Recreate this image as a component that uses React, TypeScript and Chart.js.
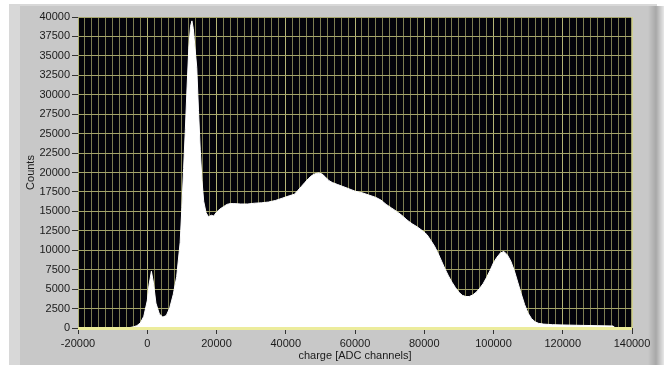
import React, { useEffect, useRef } from "react";
import { Chart, registerables } from "chart.js";

Chart.register(...registerables);

const chargeX: number[] = [
  -20000, -10000, -6000, -5000, -4000, -3000, -2000, -1000, 0, 500, 1200, 1800, 2500, 3500, 4500,
  5500, 6500, 7500, 8500, 9500, 10000, 10500, 11000, 11500, 12000, 12500, 12900, 13300, 13800,
  14300, 14800, 15300, 15800, 16300, 17000, 17700, 18500, 19200, 20000, 21000, 22000, 23000,
  24000, 25000, 27000, 29000, 31000, 33000, 35000, 37000, 39000, 41000, 42500, 43500, 44500,
  45500, 46500, 47500, 48500, 49500, 50500, 51500, 52500, 53500, 55000, 56500, 58000, 60000,
  62000, 64000, 66000, 67500, 69000, 70500, 72000, 73500, 75000, 76500, 78000, 79500, 80800,
  82000, 83000, 84000, 85000, 86000, 87000, 88000, 89000, 90000, 91000, 92000, 93000, 94000,
  95000, 96000, 97000, 98000, 99000, 100000, 101000, 102000, 103000, 104000, 105000, 106000,
  107000, 108000, 109000, 110000, 111000, 112000, 113000, 114500, 117000, 120000, 125000,
  130000, 134500, 135200, 140000,
];

const counts: number[] = [
  0, 0, 30, 60, 150, 300, 650, 1500, 3500, 5500, 7300, 5800, 3200, 1800, 1400,
  1600, 2600, 4300, 6600, 11000, 15500, 20500, 25500, 31000, 36000, 38800, 39500, 38500, 36000,
  33500, 28000, 23000, 19000, 16300, 14800, 14300, 14500, 14400, 14900, 15300, 15600, 15900,
  16000, 16000, 15950, 15950, 16050, 16100, 16200, 16400, 16700, 17000, 17200, 17700, 18200,
  18700, 19200, 19600, 19850, 19950, 19800, 19400, 18950, 18700, 18450, 18200, 17950, 17600,
  17400, 17100, 16800, 16450, 15900, 15450, 15000, 14500, 13900, 13400, 13000, 12500, 12000,
  11200, 10500, 9600, 8600, 7600, 6700, 5900, 5200, 4600, 4200, 4050, 4050, 4250,
  4600, 5100, 5700, 6500, 7400, 8400, 9100, 9650, 9850, 9400, 8600, 7400,
  5900, 4400, 3000, 1900, 1200, 800, 600, 500, 430, 390, 340,
  300, 260, 0, 0,
];

const xMin = -20000;
const xMax = 140000;
const xMajorStep = 20000;
const xMinorStep = 2000;
const yMin = 0;
const yMax = 40000;
const yStep = 2500;

const xTitle = "charge [ADC channels]";
const yTitle = "Counts";

const bgPlugin = {
  id: "bgPanel",
  beforeDraw(chart: any) {
    const { ctx, width, height, chartArea } = chart;
    ctx.save();
    ctx.fillStyle = "#ffffff";
    ctx.fillRect(0, 0, width, height);
    ctx.fillStyle = "#d8d8d8";
    ctx.fillRect(9, 4, 648, height - 4);
    ctx.fillStyle = "#c8c8c8";
    ctx.fillRect(20, 6, 630, height - 6);
    const g = ctx.createLinearGradient(648, 0, 664, 0);
    g.addColorStop(0, "#c8c8c8");
    g.addColorStop(0.5, "#a8a8a8");
    g.addColorStop(1, "#e8e8e8");
    ctx.fillStyle = g;
    ctx.fillRect(648, 6, 16, height - 6);
    ctx.fillStyle = "#03030a";
    ctx.fillRect(chartArea.left, chartArea.top, chartArea.right - chartArea.left, chartArea.bottom - chartArea.top);
    ctx.restore();
  },
  afterDatasetsDraw(chart: any) {
    const { ctx, chartArea } = chart;
    ctx.save();
    ctx.strokeStyle = "#ecec9c";
    ctx.lineWidth = 3;
    ctx.beginPath();
    ctx.moveTo(chartArea.left, chartArea.bottom + 0.5);
    ctx.lineTo(chartArea.right, chartArea.bottom + 0.5);
    ctx.stroke();
    ctx.lineWidth = 1.5;
    ctx.strokeStyle = "#d8d898";
    ctx.beginPath();
    ctx.moveTo(chartArea.right, chartArea.top);
    ctx.lineTo(chartArea.right, chartArea.bottom);
    ctx.stroke();
    ctx.restore();
  },
};

export default function App() {
  const ref = useRef<HTMLCanvasElement | null>(null);
  useEffect(() => {
    if (!ref.current) return;
    const data = chargeX.map((x, i) => ({ x, y: counts[i] }));
    const font = { family: "'Liberation Sans', Arial, sans-serif", size: 11 };
    const chart = new Chart(ref.current, {
      type: "line",
      data: {
        datasets: [
          {
            data,
            fill: "origin",
            backgroundColor: "#ffffff",
            borderColor: "#ffffff",
            borderWidth: 1,
            pointRadius: 0,
            tension: 0,
          },
        ],
      },
      options: {
        animation: false,
        responsive: false,
        layout: { padding: { left: 0, top: 17, right: 32, bottom: 0 } },
        plugins: { legend: { display: false }, tooltip: { enabled: false } },
        scales: {
          x: {
            type: "linear",
            min: xMin,
            max: xMax,
            afterFit: (s: any) => { s.height = 37; },
            afterBuildTicks: (s: any) => {
              const t: any[] = [];
              for (let v = xMin; v <= xMax; v += xMinorStep) t.push({ value: v });
              s.ticks = t;
            },
            border: { display: false },
            grid: {
              color: (c: any) => (c.tick && c.tick.value % xMajorStep === 0 ? "#b4b476" : "#7c7c52"),
              tickColor: (c: any) => (c.tick && c.tick.value % xMajorStep === 0 ? "#333333" : "rgba(0,0,0,0)"),
              tickLength: 6,
              lineWidth: 1,
            },
            ticks: {
              autoSkip: false,
              maxRotation: 0,
              padding: 3,
              color: "#1a1a1a",
              font,
              callback: (v: any) => (Number(v) % xMajorStep === 0 ? String(v) : ""),
            },
            title: { display: true, text: xTitle, color: "#1a1a1a", font, padding: { top: 0, bottom: 2 } },
          },
          y: {
            type: "linear",
            min: yMin,
            max: yMax,
            afterFit: (s: any) => { s.width = 78; },
            border: { display: false },
            grid: { color: "#a4a46a", tickColor: "#333333", tickLength: 6, lineWidth: 1 },
            ticks: {
              stepSize: yStep,
              autoSkip: false,
              padding: 2,
              color: "#1a1a1a",
              font,
              callback: (v: any) => String(v),
            },
            title: { display: true, text: yTitle, color: "#1a1a1a", font, padding: { top: 24, bottom: 0 } },
          },
        },
      },
      plugins: [bgPlugin],
    } as any);
    return () => chart.destroy();
  }, []);
  return (
    <div style={{ position: "absolute", left: 0, top: 0, width: 664, height: 365 }}>
      <canvas ref={ref} width={664} height={365} style={{ display: "block" }} />
    </div>
  );
}
